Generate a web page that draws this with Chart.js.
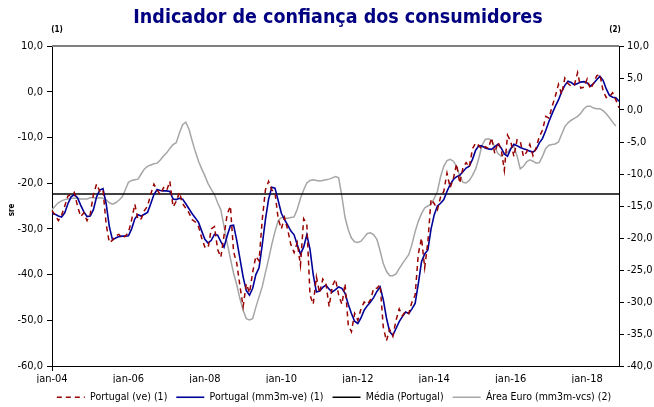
<!DOCTYPE html>
<html>
<head>
<meta charset="utf-8">
<script src="https://cdn.jsdelivr.net/npm/chart.js@4.4.1/dist/chart.umd.min.js"></script>
<style>
  html, body { margin: 0; padding: 0; background: #fff; }
  #wrap { width: 654px; height: 407px; }
</style>
</head>
<body>
<div id="wrap"><canvas id="chart" width="654" height="407"></canvas></div>
<script>
const FONT = "'DejaVu Sans Condensed', 'DejaVu Sans', sans-serif";

// meses jan-04 .. nov-18
const months = ["jan", "fev", "mar", "abr", "mai", "jun", "jul", "ago", "set", "out", "nov", "dez"];
const labels = [];
for (let i = 0; i < 179; i++) {
  labels.push(months[i % 12] + "-" + String(4 + Math.floor(i / 12)).padStart(2, "0"));
}

const leftTicks = [-60, -50, -40, -30, -20, -10, 0, 10];
const rightTicks = [-40, -35, -30, -25, -20, -15, -10, -5, 0, 5, 10];

// Portugal (ve) (1)
const portugalVe = [
  -26.0, -27.0, -28.2, -27.0, -25.0, -22.8, -22.5, -22.0, -25.0, -27.3, -26.5, -28.2,
  -26.8, -22.5, -20.2, -21.8, -21.4, -29.0, -33.0, -32.5, -31.5, -31.2, -32.0, -31.6,
  -30.8, -28.0, -24.6, -28.0, -27.8, -26.0, -25.0, -22.4, -20.2, -21.5, -22.5, -21.0,
  -21.6, -19.6, -25.2, -24.0, -22.0, -24.5, -25.5, -26.5, -28.0, -28.5, -29.5, -32.0,
  -34.0, -34.2, -30.0, -29.5, -34.5, -36.2, -31.5, -26.8, -25.0, -35.0, -37.5, -42.5,
  -47.0, -42.0, -44.0, -39.5, -36.0, -37.0, -28.0, -21.5, -19.6, -21.5, -22.0, -27.8,
  -30.0, -27.5, -30.2, -33.5, -35.2, -33.0, -38.0, -27.8, -29.0, -44.5, -46.5, -40.5,
  -44.0, -41.0, -42.0, -47.0, -42.5, -41.0, -44.5, -46.5, -42.0, -51.0, -52.5, -48.5,
  -50.0, -47.5, -46.0, -46.5, -45.5, -43.0, -43.0, -42.2, -51.5, -54.5, -52.0, -53.5,
  -50.0, -47.5, -49.0, -48.0, -48.5, -46.0, -44.5, -35.5, -32.0, -38.5, -32.8, -23.5,
  -24.5, -25.8, -23.0, -21.8, -17.8, -21.0, -19.0, -15.8, -20.0, -16.7, -15.5, -16.5,
  -12.5, -11.2, -11.8, -12.6, -12.0, -12.4, -10.1, -13.5, -11.0, -12.5, -17.2, -9.5,
  -10.8, -14.2, -10.5, -10.8, -14.2, -13.2, -11.5, -14.0, -12.2, -9.8, -8.4, -5.4,
  -5.8, -3.2, -1.0, 1.6, -0.6, 3.0, 1.8, 1.2, 1.5, 4.2, 0.8, 1.0,
  2.8, 0.6, 1.8, 3.5, 3.8, 0.2, -1.3, -1.1, -0.2, -1.8, -3.5
];

// Portugal (mm3m-ve) (1)
const portugalMm3m = [
  -26.7, -26.8, -27.2, -27.4, -26.5, -24.5, -23.0, -22.5, -23.2, -24.8, -26.3, -27.3,
  -27.2, -25.8, -23.0, -21.5, -21.2, -24.5, -29.5, -32.4, -32.0, -31.7, -31.6, -31.6,
  -31.5, -30.0, -27.8, -26.9, -27.2, -26.8, -26.4, -24.5, -22.5, -21.4, -21.6, -21.7,
  -21.7, -21.8, -23.5, -23.6, -23.3, -23.5, -24.5, -25.6, -26.7, -27.6, -28.6, -30.5,
  -32.3, -33.1, -32.5, -31.2, -31.4, -32.8, -34.0, -31.5, -29.3, -29.2, -32.5, -36.5,
  -40.5, -43.5, -44.5, -43.0, -40.0, -38.5, -33.5, -28.0, -23.5, -20.9, -21.1, -23.8,
  -26.6, -28.0, -29.2, -30.5, -31.3, -33.5, -35.5, -34.0, -31.3, -34.5, -40.0, -43.8,
  -43.6, -42.8, -42.3, -43.2, -43.8, -43.3, -42.7, -43.0, -44.1, -46.5, -48.5, -50.2,
  -50.7, -49.5, -47.8, -46.8, -46.0, -45.0, -43.7, -42.7, -45.5, -49.5, -52.5, -53.3,
  -51.8, -50.3, -49.2, -48.2, -48.5, -47.5, -46.3, -42.0, -37.2, -35.5, -34.6, -30.0,
  -26.9, -25.0, -24.4, -23.6, -21.8, -20.3, -19.2, -18.6, -18.3, -17.5, -16.7, -16.3,
  -14.8, -12.8, -11.8, -11.9, -12.3, -12.5, -12.6, -12.0, -11.5, -12.3, -13.6, -14.1,
  -12.5, -11.5, -11.8, -12.2, -12.5, -12.7, -13.0, -13.2, -12.6, -11.2, -10.2, -8.5,
  -6.5, -4.8, -3.2, -1.8, 0.0, 1.4, 2.3, 2.0, 1.5, 1.8, 2.1, 2.2,
  1.9, 1.2, 1.8, 2.6, 3.4, 2.5, 0.6, -0.8, -1.2, -1.3, -2.1
];

// Média (Portugal)
const mediaPortugal = -22.4;

// Área Euro (mm3m-vcs) (2)
const areaEuro = [
  -15.6, -15.0, -14.5, -14.2, -14.0, -13.9, -13.8, -13.8, -13.8, -13.9, -13.9, -13.9,
  -13.7, -13.7, -13.8, -13.7, -13.8, -14.0, -14.5, -14.7, -14.5, -14.1, -13.6, -12.5,
  -11.3, -11.0, -10.9, -10.8, -10.0, -9.2, -8.8, -8.6, -8.4, -8.3, -7.8, -7.2,
  -6.7, -6.0, -5.4, -5.1, -3.6, -2.3, -1.9, -3.0, -4.8, -6.5, -8.0, -9.2,
  -10.3, -11.5, -12.4, -13.2, -14.5, -15.6, -18.2, -20.8, -23.2, -25.5, -27.3, -29.5,
  -31.3, -32.6, -32.8, -32.6, -30.8, -29.2, -27.6, -25.4, -23.3, -21.0, -19.0, -17.3,
  -16.8, -16.9, -16.9, -16.8, -16.7, -15.5, -13.8, -12.5, -11.4, -11.0, -10.9, -11.0,
  -11.1, -11.0, -10.9, -10.8, -10.6, -10.4, -10.6, -13.5, -16.8, -18.7, -20.0, -20.6,
  -20.7, -20.5, -19.9, -19.3, -19.2, -19.5, -20.2, -22.0, -24.0, -25.2, -25.9, -25.9,
  -25.6, -24.8, -24.0, -23.3, -22.6, -21.0, -19.0, -17.4, -16.2, -15.3, -15.0, -14.7,
  -13.8, -12.7, -10.4, -8.8, -7.9, -7.7, -8.0, -8.8, -10.3, -11.3, -11.4, -11.0,
  -10.2, -9.2, -7.5, -5.5, -4.6, -4.5, -4.7, -5.8, -6.8, -7.2, -6.9, -6.6,
  -6.0, -5.7, -7.2, -9.2, -8.8, -8.1, -7.8, -8.0, -8.3, -8.2, -7.2, -6.0,
  -5.5, -5.4, -5.3, -5.0, -3.8, -2.6, -2.0, -1.6, -1.3, -1.0, -0.5, 0.2,
  0.6, 0.6, 0.3, 0.2, 0.2, -0.1, -0.6, -1.2, -1.9, -2.5
];

const fmt = (v) => v.toFixed(1).replace(".", ",");
const showX = (i) => i % 24 === 0;

const extras = {
  id: "extras",
  afterLayout(chart) {
    // centrar a legenda como no original
    chart.legend.left += 7;
    chart.legend.right += 7;
  },
  afterDraw(chart) {
    const { ctx, chartArea: a } = chart;
    ctx.save();
    // linha superior cinzenta
    ctx.strokeStyle = "#808080";
    ctx.lineWidth = 2;
    ctx.beginPath();
    ctx.moveTo(a.left, a.top);
    ctx.lineTo(a.right, a.top);
    ctx.stroke();

    ctx.fillStyle = "#000080";
    ctx.font = "bold 19.5px " + FONT;
    ctx.textAlign = "center";
    ctx.textBaseline = "middle";
    ctx.fillText("Indicador de confiança dos consumidores", 338, 18);

    ctx.fillStyle = "#000";
    ctx.font = "bold 8px " + FONT;
    ctx.fillText("(1)", 57, 30);
    ctx.fillText("(2)", 615, 30);

    ctx.translate(12, 210);
    ctx.rotate(-Math.PI / 2);
    ctx.fillText("sre", 0, 0);
    ctx.restore();
  }
};

new Chart(document.getElementById("chart"), {
  type: "line",
  data: {
    labels: labels,
    datasets: [
      {
        label: "Portugal (ve) (1)",
        data: portugalVe,
        borderColor: "#990000",
        backgroundColor: "#990000",
        borderWidth: 1.5,
        borderDash: [5, 4],
        pointStyle: "line",
      },
      {
        label: "Portugal (mm3m-ve) (1)",
        data: portugalMm3m,
        borderColor: "#000099",
        backgroundColor: "#000099",
        borderWidth: 1.6,
        pointStyle: "line",
      },
      {
        label: "Média (Portugal)",
        data: labels.map(() => mediaPortugal),
        borderColor: "#000",
        backgroundColor: "#000",
        borderWidth: 1.5,
        pointStyle: "line",
      },
      {
        label: "Área Euro (mm3m-vcs) (2)",
        data: areaEuro,
        borderColor: "#a6a6a6",
        backgroundColor: "#a6a6a6",
        borderWidth: 1.5,
        pointStyle: "line",
        yAxisID: "y2",
      },
    ],
  },
  options: {
    responsive: false,
    animation: false,
    layout: { padding: { top: 46, left: 0, right: 0, bottom: 0 } },
    elements: {
      point: { radius: 0, hoverRadius: 0 },
      line: { tension: 0 },
    },
    scales: {
      x: {
        offset: false,
        border: { display: true, color: "#000", width: 1 },
        grid: {
          color: (c) => (showX(c.index) ? "#a0a0a0" : "rgba(0,0,0,0)"),
          tickColor: (c) => (showX(c.index) ? "#000" : "rgba(0,0,0,0)"),
          tickLength: 5,
          lineWidth: 1,
        },
        ticks: {
          autoSkip: false,
          maxRotation: 0,
          padding: 2,
          color: "#000",
          font: { family: FONT, size: 11 },
          callback: (v, i) => (showX(i) ? labels[i] : null),
        },
        afterFit: (s) => { s.height = 17; },
      },
      y: {
        position: "left",
        min: leftTicks[0],
        max: leftTicks[leftTicks.length - 1],
        border: { display: true, color: "#000", width: 1 },
        grid: { drawOnChartArea: false, tickLength: 5, tickColor: "#000" },
        ticks: {
          stepSize: 10,
          padding: 4,
          color: "#000",
          font: { family: FONT, size: 11 },
          callback: (v) => fmt(v),
        },
        afterFit: (s) => { s.width = 52; },
      },
      y2: {
        position: "right",
        min: rightTicks[0],
        max: rightTicks[rightTicks.length - 1],
        border: { display: true, color: "#000", width: 1 },
        grid: { drawOnChartArea: false, tickLength: 5, tickColor: "#000" },
        ticks: {
          stepSize: 5,
          padding: 3,
          color: "#000",
          font: { family: FONT, size: 11 },
          callback: (v) => fmt(v),
        },
        afterFit: (s) => { s.width = 35; },
      },
    },
    plugins: {
      title: { display: false },
      tooltip: { enabled: false },
      legend: {
        position: "bottom",
        maxHeight: 24,
        labels: {
          usePointStyle: true,
          pointStyleWidth: 28,
          boxWidth: 28,
          padding: 9,
          color: "#000",
          font: { family: FONT, size: 10.5 },
          generateLabels: (chart) =>
            Chart.defaults.plugins.legend.labels.generateLabels(chart).map((item) => {
              const ds = chart.data.datasets[item.datasetIndex];
              return {
                ...item,
                strokeStyle: ds.borderColor,
                lineWidth: ds.borderWidth,
                lineDash: ds.borderDash || [],
              };
            }),
        },
      },
    },
  },
  plugins: [extras],
});
</script>
</body>
</html>
